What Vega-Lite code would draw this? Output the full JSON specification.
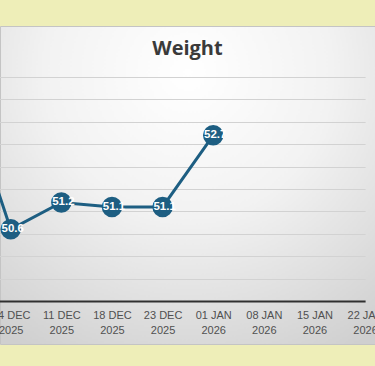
{
  "$schema": "https://vega.github.io/schema/vega-lite/v6.json",
  "autosize": {"type": "none"},
  "width": 375,
  "height": 318,
  "padding": {"top": 26, "bottom": 22, "left": 0, "right": 0},
  "background": "#EEEEB8",
  "config": {
    "view": {
      "stroke": "#C4C4C4",
      "strokeWidth": 1,
      "fill": {
        "gradient": "radial",
        "x1": 0.5, "y1": 0.2, "r1": 0,
        "x2": 0.5, "y2": 0.2, "r2": 0.85,
        "stops": [
          {"offset": 0, "color": "#FFFFFF"},
          {"offset": 0.45, "color": "#F2F2F2"},
          {"offset": 1, "color": "#CFCFCF"}
        ]
      }
    }
  },
  "title": {
    "text": "Weight",
    "offset": -49,
    "baseline": "alphabetic",
    "anchor": "middle",
    "font": "Open Sans",
    "fontSize": 20,
    "fontWeight": "bold",
    "color": "#3A3A3A"
  },
  "data": {
    "values": [
      {"date": "27 NOV 2025", "weight": 54.0},
      {"date": "04 DEC 2025", "weight": 50.6},
      {"date": "11 DEC 2025", "weight": 51.2},
      {"date": "18 DEC 2025", "weight": 51.1},
      {"date": "23 DEC 2025", "weight": 51.1},
      {"date": "01 JAN 2026", "weight": 52.7}
    ]
  },
  "encoding": {
    "x": {
      "field": "date",
      "type": "ordinal",
      "sort": null,
      "scale": {
        "type": "point",
        "padding": 0,
        "domain": ["27 NOV 2025", "04 DEC 2025", "11 DEC 2025", "18 DEC 2025", "23 DEC 2025", "01 JAN 2026", "08 JAN 2026", "15 JAN 2026", "22 JAN 2026"],
        "range": [-39.9, 365.1]
      },
      "axis": {
        "title": null,
        "orient": "bottom",
        "offset": -43,
        "labelAngle": 0,
        "ticks": false,
        "domainColor": "#303030",
        "domainWidth": 2,
        "labelPadding": 8,
        "labelFont": "Liberation Sans",
        "labelFontSize": 11,
        "labelColor": "#505050",
        "labelLineHeight": 15,
        "labelOverlap": false,
        "labelBound": false,
        "labelFlush": false,
        "labelExpr": "[slice(datum.label, 0, 6), slice(datum.label, 7)]",
        "grid": false
      }
    },
    "y": {
      "field": "weight",
      "type": "quantitative",
      "scale": {"domain": [48.04, 55.14], "nice": false, "zero": false},
      "axis": {
        "title": null,
        "labels": false,
        "ticks": false,
        "domain": false,
        "grid": true,
        "gridColor": "#D2D2D2",
        "gridWidth": 1,
        "values": [49.5, 50, 50.5, 51, 51.5, 52, 52.5, 53, 53.5, 54]
      }
    }
  },
  "layer": [
    {"mark": {"type": "line", "color": "#1D5E82", "strokeWidth": 3}},
    {"mark": {"type": "point", "filled": true, "opacity": 1, "color": "#1D5E82", "size": 420}},
    {
      "mark": {"type": "text", "color": "#FFFFFF", "font": "Liberation Sans", "fontWeight": "bold", "fontSize": 11.5, "dx": 2, "baseline": "middle"},
      "encoding": {"text": {"field": "weight", "type": "quantitative", "format": ".1f"}}
    }
  ]
}
